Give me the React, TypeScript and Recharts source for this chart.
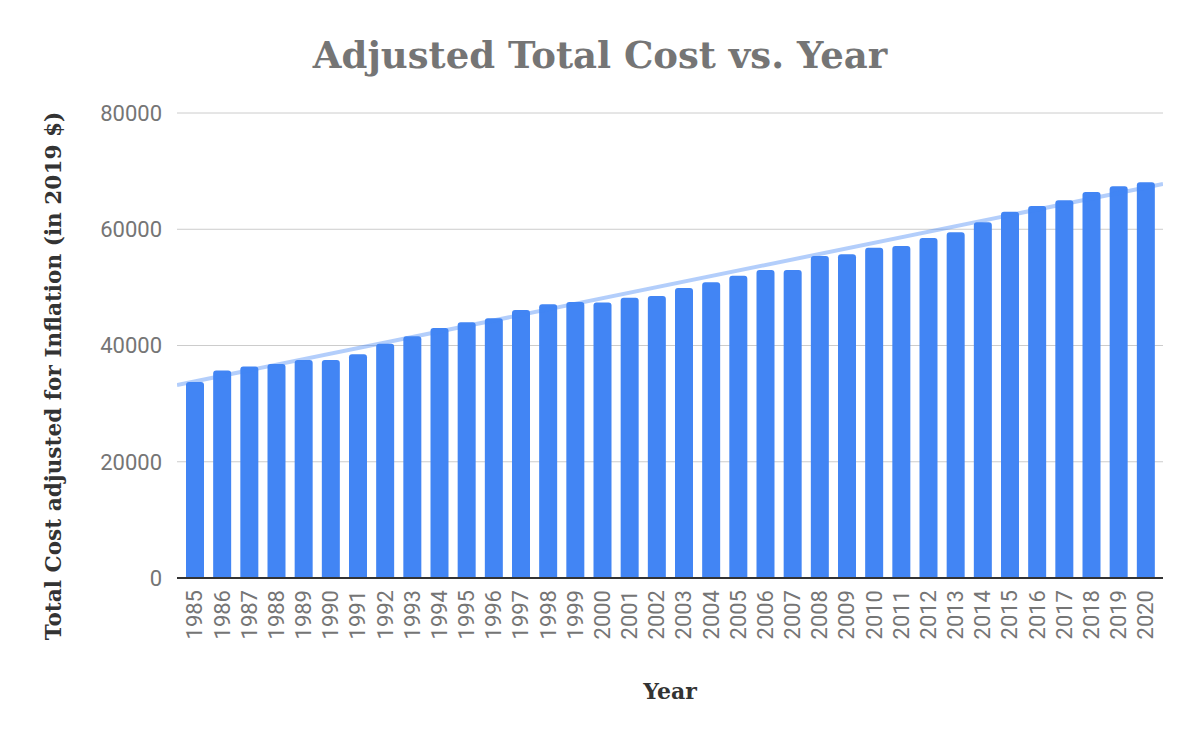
import React from "react";
import {
  ComposedChart,
  Bar,
  Line,
  XAxis,
  YAxis,
  CartesianGrid,
} from "recharts";

const years = [
  "1985", "1986", "1987", "1988", "1989", "1990", "1991", "1992", "1993",
  "1994", "1995", "1996", "1997", "1998", "1999", "2000", "2001", "2002",
  "2003", "2004", "2005", "2006", "2007", "2008", "2009", "2010", "2011",
  "2012", "2013", "2014", "2015", "2016", "2017", "2018", "2019", "2020",
];

const adjustedCost = [
  33700, 35700, 36400, 36800, 37500, 37500, 38500, 40300, 41600,
  43000, 44000, 44700, 46100, 47100, 47500, 47400, 48200, 48500,
  49900, 50900, 52000, 53000, 53000, 55400, 55700, 56800, 57100,
  58500, 59500, 61200, 63000, 64000, 65000, 66400, 67400, 68100,
];

// trendline end points (left and right edge of plot)
const trendPos = [0, 36];
const trendValues = [33200, 67800];

const yTicks = [0, 20000, 40000, 60000, 80000];

const data = years.map((y, i) => ({ year: y, cost: adjustedCost[i] }));
const trendData = trendPos.map((t, i) => ({ t, v: trendValues[i] }));

const SERIF = "'DejaVu Serif', 'Liberation Serif', serif";
const SANS = "Roboto, 'Noto Sans', Arial, sans-serif";

const XTick = (props: any) => {
  const { x, y, payload } = props;
  return (
    <text
      x={x}
      y={y + 12}
      transform={`rotate(-90, ${x}, ${y + 12})`}
      textAnchor="end"
      dy="0.36em"
      fontSize={22}
      fontFamily={SANS}
      fill="#757575"
    >
      {payload.value}
    </text>
  );
};

export default function App() {
  return (
    <div
      style={{
        position: "absolute",
        left: 0,
        top: 0,
        width: 1200,
        height: 742,
        background: "#ffffff",
      }}
    >
      <svg
        width={1200}
        height={100}
        style={{ position: "absolute", left: 0, top: 0 }}
      >
        <text
          x={600}
          y={68}
          textAnchor="middle"
          fontFamily={SERIF}
          fontWeight="bold"
          fontSize={37}
          fill="#757575"
        >
          Adjusted Total Cost vs. Year
        </text>
      </svg>
      <ComposedChart
        width={1200}
        height={742}
        data={data}
        margin={{ top: 113, right: 37, left: 0, bottom: 0 }}
        barSize={18}
      >
        <CartesianGrid vertical={false} stroke="#cccccc" strokeWidth={1} />
        <XAxis
          dataKey="year"
          type="category"
          height={164}
          interval={0}
          tickLine={false}
          tickSize={0}
          tickMargin={0}
          padding={{ left: 4, right: 4 }}
          axisLine={{ stroke: "#333333", strokeWidth: 2 }}
          tick={<XTick />}
          label={{
            content: (p: any) => {
              const vb = p.viewBox || { x: 177, y: 578, width: 986 };
              return (
                <text
                  x={vb.x + vb.width / 2}
                  y={vb.y + 121}
                  textAnchor="middle"
                  fontFamily={SERIF}
                  fontWeight="bold"
                  fontSize={22}
                  fill="#333333"
                >
                  Year
                </text>
              );
            },
          }}
        />
        <XAxis
          xAxisId="trend"
          dataKey="t"
          type="number"
          domain={[0, 36]}
          allowDataOverflow
          hide
        />
        <YAxis
          width={177}
          domain={[0, 80000]}
          ticks={yTicks}
          interval={0}
          axisLine={false}
          tickLine={false}
          tickSize={0}
          tickMargin={15}
          tick={{ fontSize: 22, fontFamily: SANS, fill: "#757575" }}
          label={{
            content: () => {
              const cx = 61;
              const cy = 376;
              return (
                <text
                  x={cx}
                  y={cy}
                  transform={`rotate(-90, ${cx}, ${cy})`}
                  textAnchor="middle"
                  fontFamily={SERIF}
                  fontWeight="bold"
                  fontSize={21.6}
                  fill="#333333"
                >
                  Total Cost adjusted for Inflation (in 2019 $)
                </text>
              );
            },
          }}
        />
        <Bar
          dataKey="cost"
          fill="#4285f4"
          radius={[3, 3, 0, 0]}
          isAnimationActive={false}
        />
        <Line
          xAxisId="trend"
          data={trendData}
          dataKey="v"
          type="linear"
          stroke="#4285f4"
          strokeOpacity={0.4}
          strokeWidth={4}
          dot={false}
          activeDot={false}
          isAnimationActive={false}
        />
      </ComposedChart>
    </div>
  );
}
